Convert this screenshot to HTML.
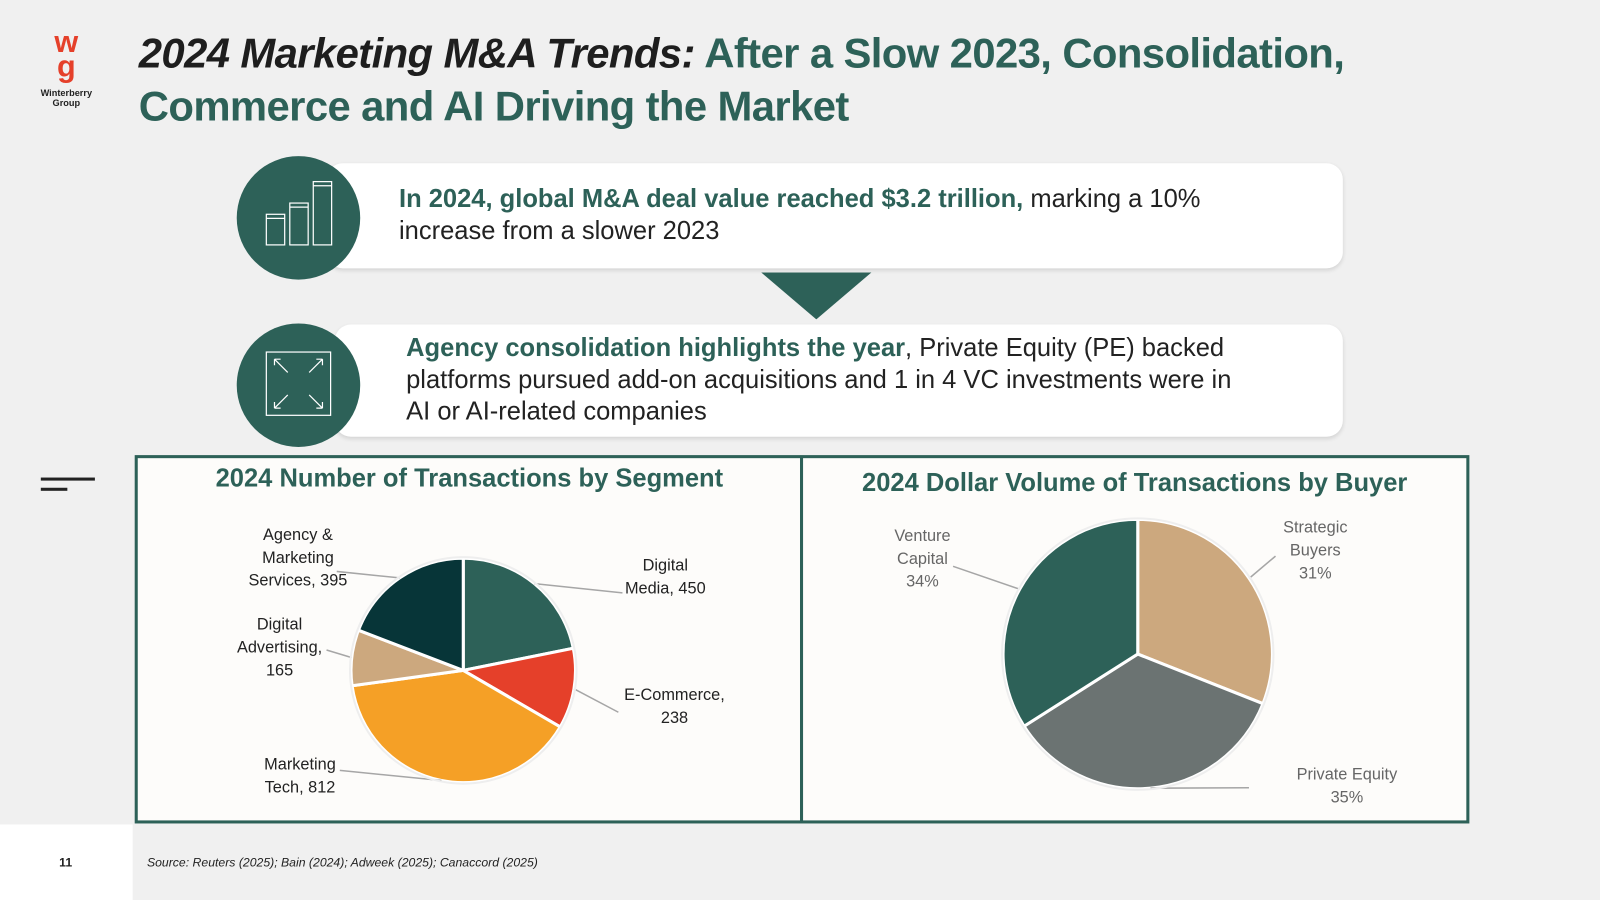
<!DOCTYPE html>
<html><head><meta charset="utf-8">
<style>
html,body{margin:0;padding:0;width:1600px;height:900px;overflow:hidden;background:#f0f0f0;font-family:"Liberation Sans",sans-serif}
#stage{position:absolute;left:0;top:0;width:1568px;height:882px;transform:scale(1.020408);transform-origin:0 0;background:#f0f0f0}
.abs{position:absolute}
.title{left:136px;top:26px;font-size:41px;font-weight:bold;line-height:52px;letter-spacing:-0.6px;color:#2d6158;white-space:nowrap}
.card{background:#fff;border-radius:16px;box-shadow:0 2px 4px rgba(0,0,0,0.12)}
.circle{width:121px;height:121px;border-radius:50%;background:#2d6158}
.ctext{font-size:25px;line-height:31px;color:#222;white-space:nowrap}
.ctext b{color:#2d6158}
.panel{background:#fdfcfa;border:3px solid #2d6158;box-sizing:border-box}
.ptitle{font-size:25px;font-weight:bold;color:#2d6158;text-align:center;width:100%}
</style></head><body>
<div id="stage">
  <div class="abs" style="left:30px;top:30px;width:70px;height:80px;text-align:center">
    <div style="color:#e5402a;font-size:30px;font-weight:bold;line-height:24px">w<br>g</div>
    <div style="font-size:9px;font-weight:bold;color:#222;line-height:10px;margin-top:8px">Winterberry<br>Group</div>
  </div>
  <div class="abs title"><i style="color:#1e1e1e">2024 Marketing M&amp;A Trends:</i> After a Slow 2023, Consolidation,<br>Commerce and AI Driving the Market</div>

  <div class="abs card" style="left:320px;top:160px;width:996px;height:103px"></div>
  <div class="abs circle" style="left:232px;top:153px">
    <svg width="121" height="121" viewBox="0 0 121 121"><g fill="none" stroke="#fff" stroke-width="1.2"><rect x="29" y="57" width="18" height="30"/><rect x="52" y="46" width="18" height="41"/><rect x="75" y="25" width="18" height="62"/><line x1="29" y1="61" x2="47" y2="61"/><line x1="52" y1="50" x2="70" y2="50"/><line x1="75" y1="29" x2="93" y2="29"/></g></svg>
  </div>
  <div class="abs ctext" style="left:391px;top:180px"><b>In 2024, global M&amp;A deal value reached $3.2 trillion,</b> marking a 10%<br>increase from a slower 2023</div>
  <svg class="abs" style="left:746px;top:267px" width="108" height="46"><polygon points="0,0 108,0 54,46" fill="#2d6158"/></svg>

  <div class="abs card" style="left:328px;top:318px;width:988px;height:110px"></div>
  <div class="abs circle" style="left:232px;top:317px">
    <svg width="121" height="121" viewBox="0 0 121 121"><g fill="none" stroke="#fff" stroke-width="1.2"><rect x="29" y="28" width="63" height="62"/><path d="M37 35 L50 48 M37 35 h6 M37 35 v6 M84 35 L71 48 M84 35 h-6 M84 35 v6 M37 83 L50 70 M37 83 h6 M37 83 v-6 M84 83 L71 70 M84 83 h-6 M84 83 v-6"/></g></svg>
  </div>
  <div class="abs ctext" style="left:398px;top:326px"><b>Agency consolidation highlights the year</b>, Private Equity (PE) backed<br>platforms pursued add-on acquisitions and 1 in 4 VC investments were in<br>AI or AI-related companies</div>

  <div class="abs" style="left:40px;top:468px"><div style="width:53px;height:3px;background:#222"></div><div style="width:26px;height:3px;background:#222;margin-top:7px"></div></div>

  <div class="abs panel" style="left:132px;top:446px;width:656px;height:361px">
    <div class="ptitle abs" style="top:6px">2024 Number of Transactions by Segment</div>
  </div>
  <div class="abs panel" style="left:784px;top:446px;width:656px;height:361px">
    <div class="ptitle abs" style="top:10px">2024 Dollar Volume of Transactions by Buyer</div>
  </div>

  <svg id="charts" class="abs" style="left:0;top:0" width="1568" height="882"></svg>

  <div class="abs" style="left:0;top:808px;width:130px;height:74px;background:#fff"></div>
  <div class="abs" style="left:58px;top:838px;font-size:12px;font-weight:bold;color:#222">11</div>
  <div class="abs" style="left:144px;top:838px;font-size:12px;font-style:italic;color:#222">Source: Reuters (2025); Bain (2024); Adweek (2025); Canaccord (2025)</div>
</div>
<script>
const segCategories = ["Digital Media, 450","E-Commerce, 238","Marketing Tech, 812","Digital Advertising, 165","Agency & Marketing Services, 395"];
const segValues = [450, 238, 812, 165, 395];
const segColors = ["#2d6158","#e5402a","#f5a026","#cca87e","#073538"];
const segLabelLines = [["Digital","Media, 450"],["E-Commerce,","238"],["Marketing","Tech, 812"],["Digital","Advertising,","165"],["Agency &","Marketing","Services, 395"]];
const segLabelPos = [[652,553],[661,680],[294,748],[274,611],[292,523]];
const segLabelAnchor = [[610,581],[606,698],[333,755],[320,637],[330,560]];

const buyCategories = ["Strategic Buyers","Private Equity","Venture Capital"];
const buyValues = [31, 35, 34];
const buyColors = ["#cca87e","#6b7372","#2d6158"];
const buyLabelLines = [["Strategic","Buyers","31%"],["Private Equity","35%"],["Venture","Capital","34%"]];
const buyLabelPos = [[1289,516],[1320,758],[904,524]];
const buyLabelAnchor = [[1250,545],[1224,772],[934,555]];

const NS="http://www.w3.org/2000/svg";
const svg=document.getElementById('charts');
function pt(cx,cy,r,a){return [cx+r*Math.sin(a),cy-r*Math.cos(a)];}
function drawPie(vals,colors,cx,cy,r,lines,lpos,lanch,textColor,prefix){
  const tot=vals.reduce((a,b)=>a+b,0);
  let a0=0;
  vals.forEach((v,i)=>{
    const a1=a0+v/tot*2*Math.PI;
    const p0=pt(cx,cy,r,a0),p1=pt(cx,cy,r,a1);
    const large=(a1-a0)>Math.PI?1:0;
    const p=document.createElementNS(NS,'path');
    p.setAttribute('d',`M${cx},${cy} L${p0[0]},${p0[1]} A${r},${r} 0 ${large} 1 ${p1[0]},${p1[1]} Z`);
    p.setAttribute('fill',colors[i]);p.setAttribute('stroke','#fff');p.setAttribute('stroke-width','3');
    
    
    svg.appendChild(p);
    const mid=(a0+a1)/2;const e=pt(cx,cy,r,mid);
    const l=document.createElementNS(NS,'polyline');
    l.setAttribute('points',`${e[0]},${e[1]} ${lanch[i][0]},${lanch[i][1]}`);
    l.setAttribute('stroke','#a6a6a6');l.setAttribute('fill','none');l.setAttribute('stroke-width','1.5');
    
    
    svg.appendChild(l);
    const t=document.createElementNS(NS,'text');
    t.setAttribute('x',lpos[i][0]);t.setAttribute('y',lpos[i][1]+6);
    t.setAttribute('text-anchor','middle');t.setAttribute('font-size','16');t.setAttribute('fill',textColor);
    t.setAttribute('font-family','Liberation Sans, sans-serif');
    
    
    lines[i].forEach((s,j)=>{const ts=document.createElementNS(NS,'tspan');ts.setAttribute('x',lpos[i][0]);ts.setAttribute('dy',j?22.5:0);ts.textContent=s;t.appendChild(ts);});
    svg.appendChild(t);
    a0=a1;
  });
  const c=document.createElementNS(NS,'circle');
  c.setAttribute('cx',cx);c.setAttribute('cy',cy);c.setAttribute('r',r+1);c.setAttribute('fill','none');c.setAttribute('stroke','#eee');c.setAttribute('stroke-width','2');
  
  
  svg.appendChild(c);
}
drawPie(segValues,segColors,454,657,110,segLabelLines,segLabelPos,segLabelAnchor,'#222','segment');
drawPie(buyValues,buyColors,1115,641,132,buyLabelLines,buyLabelPos,buyLabelAnchor,'#666','buyer');
</script>
</body></html>
